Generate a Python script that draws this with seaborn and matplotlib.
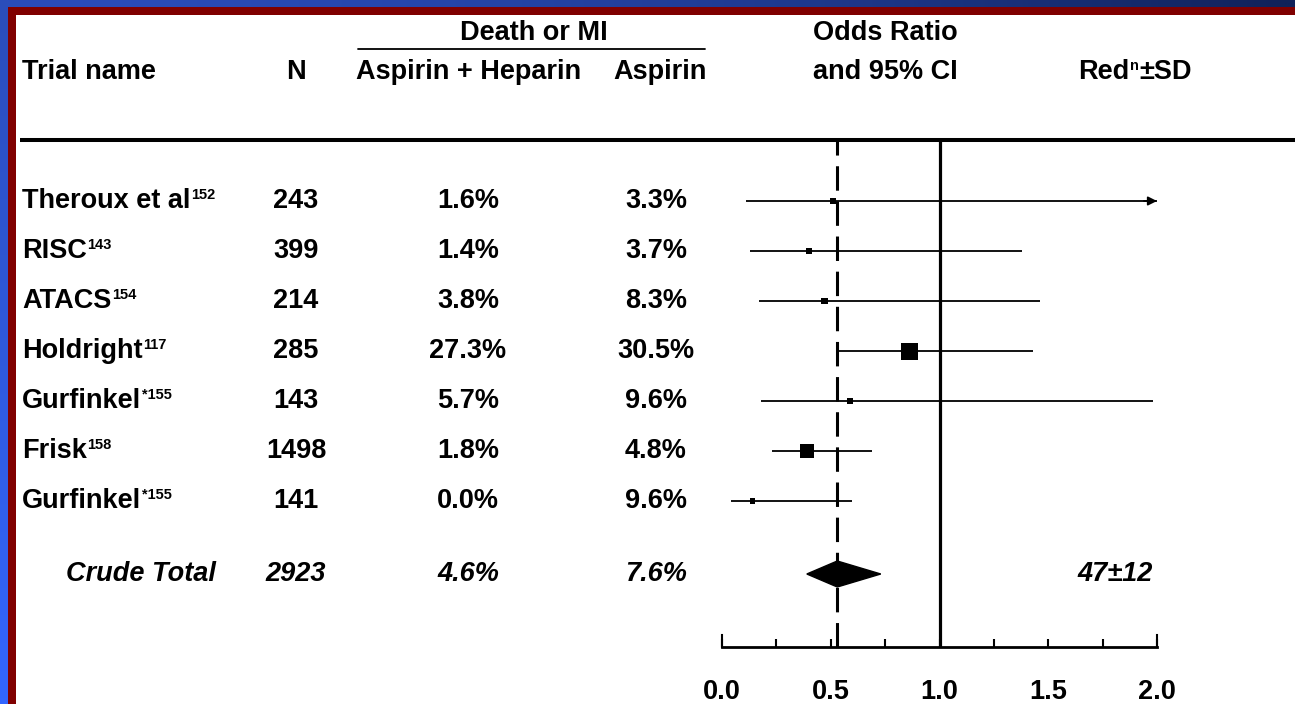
import numpy as np
import pandas as pd
import matplotlib
matplotlib.use("Agg")
import matplotlib.pyplot as plt
import matplotlib.transforms as mtransforms
from matplotlib.patches import Rectangle, Polygon
import seaborn as sns

# ---- data -------------------------------------------------------------
trials = ["Theroux et al", "RISC", "ATACS", "Holdright", "Gurfinkel", "Frisk", "Gurfinkel"]
refs = ["152", "143", "154", "117", "*155", "158", "*155"]
n_patients = [243, 399, 214, 285, 143, 1498, 141]
rate_asa_hep = [1.6, 1.4, 3.8, 27.3, 5.7, 1.8, 0.0]
rate_asa = [3.3, 3.7, 8.3, 30.5, 9.6, 4.8, 9.6]
odds_ratio = [0.51, 0.40, 0.47, 0.86, 0.59, 0.39, 0.14]
ci_low = [0.11, 0.13, 0.17, 0.53, 0.18, 0.23, 0.04]
ci_high = [2.60, 1.38, 1.46, 1.43, 1.98, 0.69, 0.60]

total_label = "Crude Total"
total_n = 2923
total_asa_hep = 4.6
total_asa = 7.6
total_or = 0.53
total_low = 0.39
total_high = 0.73
reduction_mean = 47
reduction_sd = 12

xticks_major = [0.0, 0.5, 1.0, 1.5, 2.0]
xticks_minor = [0.25, 0.75, 1.25, 1.75]

# ---- style ------------------------------------------------------------
sns.set_style("white")
plt.rcParams["font.family"] = ["Liberation Sans", "DejaVu Sans"]
plt.rcParams["font.weight"] = "bold"
plt.rcParams["text.color"] = "black"
plt.rcParams["xtick.color"] = "black"
plt.rcParams["xtick.labelcolor"] = "black"
FS = 19.5
SUP_FS = 10.5

W, H = 1295, 704
fig = plt.figure(figsize=(W / 100, H / 100), dpi=100)

# slide background: blue gradient, dark red frame, white panel
bg = fig.add_axes([0, 0, 1, 1])
u = np.linspace(0, 1, 64)[None, :, None]
v = np.linspace(0, 1, 64)[:, None, None]
top_left = np.array([42, 77, 187]) / 255
top_right = np.array([16, 34, 90]) / 255
bottom_left = np.array([51, 102, 255]) / 255
grad = np.clip(top_left + (top_right - top_left) * u ** 1.6 + (bottom_left - top_left) * v, 0, 1)
bg.imshow(grad, extent=(0, W, H, 0), aspect="auto", interpolation="bilinear", zorder=0)
bg.add_patch(Rectangle((8, 7), W, H, facecolor="#800000", edgecolor="none", zorder=1))
bg.add_patch(Rectangle((16, 15), W, H, facecolor="white", edgecolor="none", zorder=2))
bg.set_xlim(0, W)
bg.set_ylim(H, 0)
bg.axis("off")

# ---- forest panel -----------------------------------------------------
x_left, x_right = 722, 1157
y_top, y_bottom = 140, 647
row0_px, row_step_px = 201, 50

fa = fig.add_axes([x_left / W, 1 - y_bottom / H, (x_right - x_left) / W, (y_bottom - y_top) / H])
fa.set_facecolor("none")

pos = np.arange(len(trials), dtype=float)
total_pos = len(trials) + 0.46

df = pd.DataFrame({
    "trial": trials,
    "pos": pos,
    "odds_ratio": odds_ratio,
    "low": ci_low,
    "high": ci_high,
})

# study weight from the width of the log-scale confidence interval
se = (np.log(df["high"]) - np.log(df["low"])) / 3.92
weight = 1 / se ** 2
side_px = 4 + 13 * weight / weight.max()
marker_area = (side_px * 0.72) ** 2

fa.axvline(1.0, color="black", lw=2.3, zorder=2)
fa.axvline(total_or, color="black", lw=2.2, ls=(0, (8, 3.5)), zorder=2)

x_max = xticks_major[-1]
fa.hlines(df["pos"], df["low"], np.minimum(df["high"], x_max), color="black", lw=1.3, zorder=3)
for p, hi in zip(df["pos"], df["high"]):
    if hi > x_max:
        fa.annotate("", xy=(x_max, p), xytext=(x_max - 0.06, p),
                    arrowprops=dict(arrowstyle="-|>", color="black", lw=1.3,
                                    mutation_scale=13, shrinkA=0, shrinkB=0),
                    annotation_clip=False, zorder=3)

sns.scatterplot(data=df, x="odds_ratio", y="pos", marker="s", s=marker_area,
                color="black", edgecolor="black", linewidth=0, legend=False,
                ax=fa, zorder=4)

half_h = 13 / row_step_px
fa.add_patch(Polygon([[total_low, total_pos], [total_or, total_pos - half_h],
                      [total_high, total_pos], [total_or, total_pos + half_h]],
                     closed=True, facecolor="black", edgecolor="black", lw=1, zorder=4))

fa.set_xlim(0, x_max)
fa.set_ylim((y_bottom - row0_px) / row_step_px, (y_top - row0_px) / row_step_px)
fa.set_xlabel("")
fa.set_ylabel("")
fa.set_yticks([])
fa.set_xticks(xticks_major)
fa.set_xticks(xticks_minor, minor=True)
fa.set_xticklabels([f"{t:.1f}" for t in xticks_major], fontsize=FS, fontweight="bold",
                   color="black")
fa.tick_params(axis="x", which="both", direction="in", length=6, width=1.5,
               color="black", labelcolor="black", pad=23, bottom=True)
fa.spines["top"].set_visible(False)
fa.spines["bottom"].set_linewidth(2)
fa.spines["bottom"].set_color("black")
yb = fa.get_ylim()[0]
for side in ("left", "right"):
    fa.spines[side].set_visible(True)
    fa.spines[side].set_color("black")
    fa.spines[side].set_linewidth(1.5)
    fa.spines[side].set_bounds(yb, yb - 12 / row_step_px)

# ---- table text -------------------------------------------------------
row_tr = mtransforms.blended_transform_factory(bg.transData, fa.transData)
txt_kw = dict(fontsize=FS, fontweight="bold", color="black", va="center", zorder=5)


def add_superscript(anchor, sup):
    return bg.annotate(sup, xy=(1, 1), xycoords=anchor, xytext=(0.5, 0),
                       textcoords="offset points", ha="left", va="top",
                       fontsize=SUP_FS, fontweight="bold", color="black", zorder=5)


# header
bg.text(22, 72, "Trial name", ha="left", **txt_kw)
bg.text(296, 72, "N", ha="center", **txt_kw)
bg.text(534, 33, "Death or MI", ha="center", **txt_kw)
bg.plot([358, 705], [49, 49], color="black", lw=1.3, zorder=5)
bg.text(469, 72, "Aspirin + Heparin", ha="center", **txt_kw)
bg.text(660, 72, "Aspirin", ha="center", **txt_kw)
bg.text(885, 33, "Odds Ratio", ha="center", **txt_kw)
bg.text(885, 72, "and 95% CI", ha="center", **txt_kw)
red_t = bg.text(1078, 72, "Red", ha="left", **txt_kw)
sup_t = add_superscript(red_t, "n")
bg.annotate("\u00b1SD", xy=(1, 0), xycoords=(sup_t, red_t), xytext=(0.3, 0),
            textcoords="offset points", ha="left", va="bottom",
            fontsize=FS, fontweight="bold", color="black", zorder=5)
bg.plot([20, W], [140, 140], color="black", lw=2.9, zorder=5, solid_capstyle="butt")

# study rows
for i, row in enumerate(trials):
    name_t = bg.text(22, pos[i], row, transform=row_tr, ha="left", **txt_kw)
    add_superscript(name_t, refs[i])
    bg.text(296, pos[i], f"{n_patients[i]}", transform=row_tr, ha="center", **txt_kw)
    bg.text(468, pos[i], f"{rate_asa_hep[i]:.1f}%", transform=row_tr, ha="center", **txt_kw)
    bg.text(656, pos[i], f"{rate_asa[i]:.1f}%", transform=row_tr, ha="center", **txt_kw)

# pooled row
it_kw = {**txt_kw, "fontstyle": "italic"}
bg.text(141, total_pos, total_label, transform=row_tr, ha="center", **it_kw)
bg.text(296, total_pos, f"{total_n}", transform=row_tr, ha="center", **it_kw)
bg.text(468, total_pos, f"{total_asa_hep:.1f}%", transform=row_tr, ha="center", **it_kw)
bg.text(656, total_pos, f"{total_asa:.1f}%", transform=row_tr, ha="center", **it_kw)
bg.text(1153, total_pos, f"{reduction_mean}\u00b1{reduction_sd}", transform=row_tr,
        ha="right", **it_kw)

fig.savefig("out.png", dpi=100)
